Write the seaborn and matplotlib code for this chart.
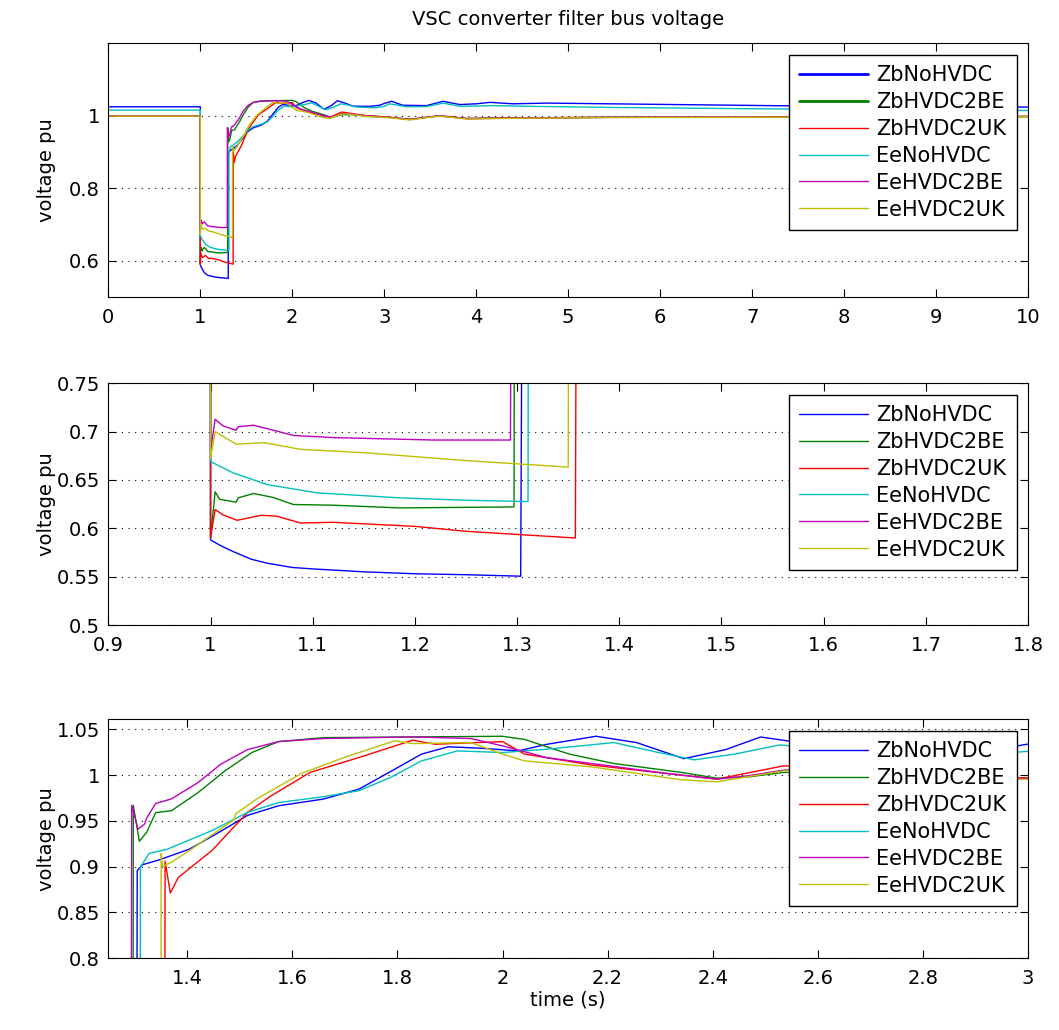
import numpy as np
import pandas as pd
import matplotlib
matplotlib.use("Agg")
import matplotlib.pyplot as plt
from matplotlib.lines import Line2D
from matplotlib.ticker import FuncFormatter
import seaborn as sns

# cases / colours (matlab default order)
cases = ["ZbNoHVDC", "ZbHVDC2BE", "ZbHVDC2UK", "EeNoHVDC", "EeHVDC2BE", "EeHVDC2UK"]
colors = [(0, 0, 1), (0, 0.5, 0), (1, 0, 0), (0, 0.75, 0.75), (0.75, 0, 0.75), (0.75, 0.75, 0)]

# time (s) and voltage (pu) per case
t_zb_no = [0, 1.0, 1.0, 1.01, 1.022, 1.04, 1.055, 1.08, 1.1, 1.15, 1.2, 1.25, 1.3035, 1.305,
           1.315, 1.345, 1.404, 1.455, 1.515, 1.574, 1.659, 1.727, 1.795, 1.846, 1.897, 1.957,
           2.03, 2.085, 2.178, 2.255, 2.345, 2.425, 2.491, 2.56, 2.66, 2.85, 2.95, 3.0, 3.08,
           3.2, 3.46, 3.64, 3.82, 4.0, 4.15, 4.4, 4.77, 5.45, 6.5, 7.33, 8.5, 10]
v_zb_no = [1.0248, 1.0248, 0.588, 0.582, 0.576, 0.568, 0.564, 0.5595, 0.558, 0.555, 0.553, 0.552,
           0.5505, 0.8956, 0.902, 0.907, 0.919, 0.9356, 0.956, 0.9665, 0.9738, 0.9847, 1.0065,
           1.023, 1.031, 1.0295, 1.0265, 1.0338, 1.0425, 1.0356, 1.018, 1.028, 1.0417, 1.036,
           1.0265, 1.026, 1.029, 1.034, 1.040, 1.029, 1.028, 1.040, 1.031, 1.033, 1.037, 1.033,
           1.035, 1.033, 1.030, 1.0276, 1.026, 1.024]

t_zb_be = [0, 1.0, 1.0, 1.0045, 1.009, 1.025, 1.027, 1.042, 1.061, 1.081, 1.12, 1.185, 1.297,
           1.2975, 1.309, 1.323, 1.34, 1.37, 1.421, 1.472, 1.523, 1.574, 1.659, 2.0, 2.042,
           2.127, 2.212, 2.34, 2.408, 2.467, 2.535, 2.65, 2.81, 3.06, 3.28, 3.46, 3.6, 3.9,
           4.4, 5.45, 10]
v_zb_be = [1.0, 1.0, 0.59, 0.6377, 0.630, 0.627, 0.6315, 0.636, 0.632, 0.6246, 0.6239, 0.6211,
           0.6221, 0.967, 0.9276, 0.9375, 0.959, 0.961, 0.981, 1.0047, 1.0247, 1.0367, 1.041,
           1.0425, 1.039, 1.023, 1.0127, 1.003, 0.9967, 0.998, 1.003, 1.003, 1.0, 0.9957, 0.990,
           0.9957, 0.9995, 0.9925, 0.994, 0.9957, 0.998]

t_zb_uk = [0, 1.0, 1.0, 1.0045, 1.012, 1.026, 1.05, 1.065, 1.088, 1.12, 1.2, 1.25, 1.357,
           1.358, 1.368, 1.383, 1.447, 1.515, 1.557, 1.634, 1.727, 1.829, 1.872, 2.0, 2.042,
           2.17, 2.408, 2.535, 2.6, 2.81, 3.06, 3.28, 3.46, 3.6, 3.9, 4.4, 5.45, 10]
v_zb_uk = [1.0, 1.0, 0.59, 0.6194, 0.614, 0.6083, 0.6135, 0.6125, 0.6055, 0.6062, 0.602, 0.5969,
           0.59, 0.9058, 0.871, 0.888, 0.9175, 0.9593, 0.9764, 1.003, 1.0193, 1.0382, 1.0338,
           1.0367, 1.023, 1.011, 0.9956, 1.0102, 1.008, 1.0, 0.996, 0.9898, 0.996, 1.0, 0.9922,
           0.994, 0.9958, 0.998]

t_ee_no = [0, 1.0, 1.0, 1.022, 1.055, 1.104, 1.185, 1.25, 1.3107, 1.311, 1.328, 1.362, 1.447,
           1.515, 1.574, 1.659, 1.727, 1.787, 1.846, 1.914, 2.0, 2.085, 2.212, 2.297, 2.365,
           2.442, 2.527, 2.6, 2.7, 2.9, 3.0, 3.06, 3.24, 3.45, 3.64, 3.82, 4.19, 4.6, 5.45,
           7.15, 10]
v_ee_no = [1.0156, 1.0156, 0.669, 0.6574, 0.6453, 0.6367, 0.6315, 0.629, 0.6277, 0.8995, 0.9145,
           0.919, 0.9393, 0.9593, 0.970, 0.9764, 0.983, 0.9975, 1.0156, 1.0265, 1.0247, 1.0284,
           1.0356, 1.0247, 1.0167, 1.023, 1.033, 1.030, 1.024, 1.022, 1.026, 1.033, 1.025,
           1.025, 1.035, 1.026, 1.028, 1.026, 1.023, 1.019, 1.0146]

t_ee_be = [0, 1.0, 1.0, 1.0045, 1.012, 1.025, 1.027, 1.042, 1.058, 1.081, 1.12, 1.218, 1.2935,
           1.2945, 1.3065, 1.319, 1.323, 1.34, 1.37, 1.421, 1.464, 1.515, 1.574, 1.659, 1.829,
           1.94, 2.0, 2.085, 2.17, 2.297, 2.408, 2.467, 2.535, 2.6, 2.81, 3.06, 3.28, 3.46, 3.6,
           3.9, 4.4, 5.45, 10]
v_ee_be = [1.0, 1.0, 0.68, 0.7128, 0.706, 0.7014, 0.705, 0.7066, 0.7024, 0.696, 0.6938, 0.6913,
           0.6913, 0.967, 0.941, 0.9465, 0.953, 0.969, 0.974, 0.992, 1.012, 1.028, 1.0367, 1.040,
           1.0418, 1.040, 1.032, 1.019, 1.0127, 1.003, 0.9956, 0.9993, 1.0055, 1.006, 0.999,
           0.995, 0.9895, 0.9955, 0.9998, 0.992, 0.9935, 0.9955, 0.9978]

t_ee_uk = [0, 1.0, 1.0, 1.0045, 1.025, 1.052, 1.088, 1.153, 1.25, 1.35, 1.3505, 1.353, 1.37,
           1.404, 1.489, 1.492, 1.532, 1.617, 1.702, 1.795, 1.829, 1.94, 2.0, 2.042, 2.17, 2.34,
           2.408, 2.535, 2.6, 2.81, 3.06, 3.28, 3.46, 3.6, 3.9, 4.4, 5.45, 10]
v_ee_uk = [0.999, 0.999, 0.672, 0.70, 0.687, 0.6886, 0.6817, 0.678, 0.670, 0.6633, 0.9145, 0.90,
           0.9047, 0.9175, 0.9513, 0.9575, 0.9738, 1.0018, 1.020, 1.0375, 1.0345, 1.0356, 1.023,
           1.0156, 1.009, 0.9949, 0.9927, 1.0047, 1.005, 0.998, 0.9945, 0.9885, 0.995, 0.999,
           0.991, 0.993, 0.995, 0.9975]

times = [t_zb_no, t_zb_be, t_zb_uk, t_ee_no, t_ee_be, t_ee_uk]
volts = [v_zb_no, v_zb_be, v_zb_uk, v_ee_no, v_ee_be, v_ee_uk]

# axis limits and ticks for the three views
xlims = [(0, 10), (0.9, 1.8), (1.25, 3)]
ylims = [(0.5, 1.2), (0.5, 0.75), (0.8, 1.061)]
xticks = [[0, 1, 2, 3, 4, 5, 6, 7, 8, 9, 10],
          [0.9, 1.0, 1.1, 1.2, 1.3, 1.4, 1.5, 1.6, 1.7, 1.8],
          [1.4, 1.6, 1.8, 2.0, 2.2, 2.4, 2.6, 2.8, 3.0]]
yticks = [[0.6, 0.8, 1.0],
          [0.5, 0.55, 0.6, 0.65, 0.7, 0.75],
          [0.8, 0.85, 0.9, 0.95, 1.0, 1.05]]

rows = []
for name, ts, vs in zip(cases, times, volts):
    for t, v in zip(ts, vs):
        rows.append((name, t, v))
df = pd.DataFrame(rows, columns=["case", "time", "voltage"])

sns.set_theme(style="white")
plt.rcParams['font.family'] = ['DejaVu Sans']
plt.rcParams['font.size'] = 14
plt.rcParams['text.color'] = 'black'
plt.rcParams['axes.labelcolor'] = 'black'
plt.rcParams['xtick.color'] = 'black'
plt.rcParams['ytick.color'] = 'black'

fig = plt.figure(figsize=(10.59, 10.30), dpi=100)
boxes = [[0.1023, 0.7119, 0.8685, 0.2460],
         [0.1023, 0.3932, 0.8685, 0.2347],
         [0.1023, 0.0699, 0.8685, 0.2317]]

fmt = FuncFormatter(lambda v, p: f"{v:g}")

for i, box in enumerate(boxes):
    ax = fig.add_axes(box)
    sns.lineplot(data=df, x="time", y="voltage", hue="case", hue_order=cases,
                 palette=colors, estimator=None, sort=False, linewidth=1.0,
                 legend=False, ax=ax)
    ax.set_xlim(*xlims[i])
    ax.set_ylim(*ylims[i])
    ax.set_xticks(xticks[i])
    ax.set_yticks(yticks[i])
    ax.xaxis.set_major_formatter(fmt)
    ax.yaxis.set_major_formatter(fmt)
    ax.tick_params(direction="in", top=True, right=True, length=6, width=0.8,
                   labelsize=14, colors="black", bottom=True, left=True)
    ax.tick_params(axis="x", pad=8)
    ax.tick_params(axis="y", pad=6)
    for s in ax.spines.values():
        s.set_color("black")
        s.set_linewidth(0.8)
    ax.yaxis.grid(True, linestyle=(0, (1, 5)), color="black", linewidth=0.8)
    ax.xaxis.grid(False)
    ax.set_ylabel("voltage pu", fontsize=14, color="black")
    ax.yaxis.set_label_coords(-0.057, 0.5)
    ax.set_xlabel("")

    handles = [Line2D([], [], color=c, linewidth=1.0) for c in colors]
    if i == 0:
        handles[0].set_linewidth(2.0)
        handles[1].set_linewidth(2.0)
    leg = ax.legend(handles, cases, loc="upper right", fontsize=15, frameon=True,
                    fancybox=False, framealpha=1, edgecolor="black",
                    borderaxespad=0.55, handlelength=3.3, handletextpad=0.4,
                    labelspacing=0.33, borderpad=0.5)
    leg.get_frame().set_linewidth(1.0)

    if i == 0:
        ax.set_title("VSC converter filter bus voltage", fontsize=14, pad=13, color="black")
    if i == 2:
        ax.set_xlabel("time (s)", fontsize=14, labelpad=2, color="black")

fig.savefig("out.png", dpi=100, facecolor="white")
